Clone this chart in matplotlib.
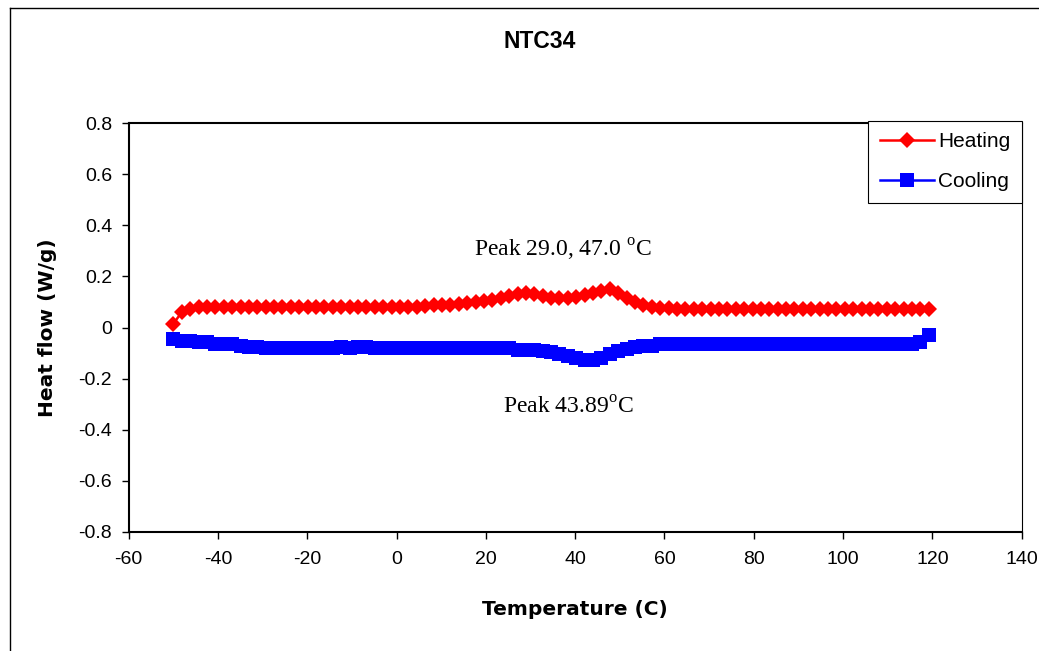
import matplotlib
matplotlib.use("Agg")
import matplotlib.pyplot as plt
from matplotlib.lines import Line2D
from matplotlib.ticker import FuncFormatter

plt.rcParams["font.family"] = ["Liberation Sans", "DejaVu Sans"]
plt.rcParams["axes.unicode_minus"] = False
plt.rcParams["mathtext.fontset"] = "custom"
plt.rcParams["mathtext.rm"] = "Liberation Serif"

# Sampling temperatures (C), shared by both scans
temperature = [round(-50.0 + 1.88 * i, 2) for i in range(91)]

# Heat flow (W/g) on heating
heating = [
    0.015, 0.060, 0.072, 0.080, 0.080, 0.080, 0.080, 0.080, 0.080, 0.080,
    0.080, 0.080, 0.080, 0.080, 0.080, 0.080, 0.080, 0.080, 0.080, 0.080,
    0.080, 0.080, 0.080, 0.080, 0.080, 0.080, 0.080, 0.082, 0.082, 0.082,
    0.086, 0.088, 0.088, 0.089, 0.092, 0.095, 0.100, 0.102, 0.108, 0.115,
    0.122, 0.130, 0.135, 0.130, 0.122, 0.116, 0.114, 0.116, 0.120, 0.128,
    0.135, 0.142, 0.150, 0.135, 0.115, 0.100, 0.090, 0.082, 0.078, 0.075,
    0.072, 0.072, 0.072, 0.072, 0.072, 0.072, 0.072, 0.072, 0.072, 0.072,
    0.072, 0.072, 0.072, 0.072, 0.072, 0.072, 0.072, 0.072, 0.072, 0.072,
    0.072, 0.072, 0.072, 0.072, 0.072, 0.072, 0.072, 0.072, 0.072, 0.072,
    0.072,
]

# Heat flow (W/g) on cooling
cooling = [
    -0.045, -0.054, -0.054, -0.055, -0.056, -0.065, -0.066, -0.066, -0.074, -0.075,
    -0.076, -0.082, -0.082, -0.082, -0.082, -0.082, -0.082, -0.082, -0.082, -0.082,
    -0.075, -0.082, -0.076, -0.076, -0.082, -0.082, -0.082, -0.082, -0.082, -0.082,
    -0.082, -0.082, -0.082, -0.082, -0.082, -0.082, -0.082, -0.082, -0.082, -0.082,
    -0.082, -0.087, -0.088, -0.088, -0.090, -0.097, -0.103, -0.110, -0.120, -0.127,
    -0.128, -0.118, -0.105, -0.093, -0.085, -0.077, -0.074, -0.072, -0.066, -0.063,
    -0.063, -0.063, -0.063, -0.063, -0.063, -0.063, -0.063, -0.063, -0.063, -0.063,
    -0.063, -0.063, -0.063, -0.063, -0.063, -0.063, -0.063, -0.063, -0.063, -0.063,
    -0.063, -0.063, -0.063, -0.063, -0.063, -0.063, -0.063, -0.063, -0.063, -0.056,
    -0.030,
]

series_names = ["Heating", "Cooling"]
x_ticks = [-60, -40, -20, 0, 20, 40, 60, 80, 100, 120, 140]
y_ticks = [-0.8, -0.6, -0.4, -0.2, 0, 0.2, 0.4, 0.6, 0.8]

fig = plt.figure(figsize=(10.39, 6.51), dpi=100)
ax = fig.add_axes([0.1239, 0.1828, 0.8594, 0.6282])

ax.plot(temperature, heating, color="#ff0000", lw=1.8, marker="D",
        markersize=8.5, markeredgewidth=0, label=series_names[0])
ax.plot(temperature, cooling, color="#0000ff", lw=1.8, marker="s",
        markersize=9.5, markeredgewidth=0, label=series_names[1])

ax.set_xlim(x_ticks[0], x_ticks[-1])
ax.set_ylim(y_ticks[0], y_ticks[-1])
ax.set_xticks(x_ticks)
ax.set_yticks(y_ticks)
fmt = FuncFormatter(lambda v, p: f"{v:g}")
ax.xaxis.set_major_formatter(fmt)
ax.yaxis.set_major_formatter(fmt)
ax.tick_params(direction="out", length=5, width=1, labelsize=14,
               colors="black", pad=7)
ax.tick_params(axis="x", pad=9)
for s in ax.spines.values():
    s.set_color("black")
    s.set_linewidth(1.5)
ax.spines["right"].set_linewidth(0.8)

ax.set_xlabel("Temperature (C)", fontsize=14.5, fontweight="bold",
              family="DejaVu Sans", labelpad=23)
ax.set_ylabel("Heat flow (W/g)", fontsize=14.5, fontweight="bold",
              family="DejaVu Sans", labelpad=15)

ax.text(37.3, 0.305, r"Peak 29.0, 47.0 $^{\mathrm{o}}$C", family="Liberation Serif",
        fontsize=17, ha="center", va="center")
ax.text(38.4, -0.313, r"Peak 43.89$^{\mathrm{o}}$C", family="Liberation Serif",
        fontsize=17, ha="center", va="center")

leg = ax.legend(loc="upper right", bbox_to_anchor=(1.0, 1.005), fontsize=15,
                frameon=True, fancybox=False, shadow=False, framealpha=1,
                edgecolor="black", borderpad=0.55, labelspacing=1.0,
                handlelength=2.6, handletextpad=0.2, borderaxespad=0)
leg.get_frame().set_linewidth(0.8)

fig.text(540 / 1039, 1 - 42 / 651, "NTC34", fontsize=16.5, fontweight="bold",
         ha="center", va="center")

# Outer chart-area border
fig.add_artist(Line2D([10 / 1039, 10 / 1039], [0, 1 - 8 / 651], color="black", lw=1))
fig.add_artist(Line2D([10 / 1039, 1], [1 - 8 / 651, 1 - 8 / 651], color="black", lw=1))

fig.savefig("out.png", dpi=100)
